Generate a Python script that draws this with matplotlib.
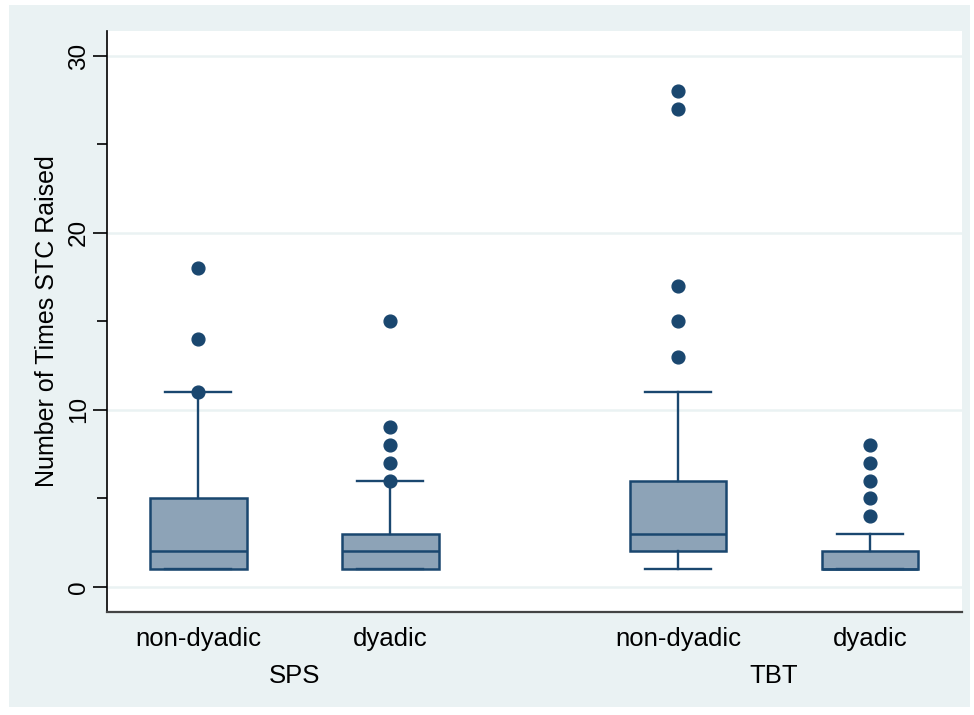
import matplotlib
matplotlib.use("Agg")
import matplotlib.pyplot as plt
from matplotlib.patches import Rectangle
from matplotlib.transforms import blended_transform_factory

plt.rcParams['font.family'] = ['Liberation Sans', 'DejaVu Sans']

# box summaries per group: quartiles, whiskers and outlying points
categories = ['non-dyadic', 'dyadic', 'non-dyadic', 'dyadic']
groups = ['SPS', 'TBT']
q1 = [1, 1, 2, 1]
median = [2, 2, 3, 1]
q3 = [5, 3, 6, 2]
whisker_lo = [1, 1, 1, 1]
whisker_hi = [11, 6, 11, 3]
outliers = [
    [11, 14, 18],
    [6, 7, 8, 9, 15],
    [13, 15, 17, 27, 28],
    [4, 5, 6, 7, 8],
]
positions = [1, 2, 3.5, 4.5]

navy = '#1A476F'
boxfill = '#8DA3B7'
bg = '#EAF2F3'

fig = plt.figure(figsize=(9.74, 7.15), dpi=100)
fig.patch.set_facecolor('white')
# shaded graph region inside a thin white border
fig.patches.append(Rectangle((9 / 974, 1 - 707 / 715), (970 - 9) / 974, (707 - 5) / 715,
                             transform=fig.transFigure, facecolor=bg, edgecolor='none', zorder=-10))

ax = fig.add_axes([107 / 974, 1 - 612 / 715, (962 - 107) / 974, (612 - 31) / 715])
ax.set_zorder(1)
ax.set_facecolor('white')

stats = []
for i in range(len(categories)):
    stats.append(dict(med=median[i], q1=q1[i], q3=q3[i],
                      whislo=whisker_lo[i], whishi=whisker_hi[i], fliers=outliers[i]))

ax.bxp(stats, positions=positions, widths=0.504, patch_artist=True,
       boxprops=dict(facecolor=boxfill, edgecolor=navy, linewidth=1.8),
       medianprops=dict(color=navy, linewidth=1.8),
       whiskerprops=dict(color=navy, linewidth=1.7),
       capprops=dict(color=navy, linewidth=1.7),
       capwidths=0.343,
       flierprops=dict(marker='o', markerfacecolor=navy, markeredgecolor=navy,
                       markersize=9.2, linestyle='none'),
       zorder=3)

ax.set_xlim(0.524, 4.98)
ax.set_ylim(-1.43, 31.41)

# y axis: labelled ticks every 10, short ticks in between
ax.set_yticks([0, 10, 20, 30])
ax.set_yticks([5, 15, 25], minor=True)
ax.set_yticklabels(['0', '10', '20', '30'], rotation=90, va='center', fontsize=17.5)
ax.tick_params(axis='y', which='major', length=10, width=1.2, pad=2.5)
ax.tick_params(axis='y', which='minor', length=7, width=1.2)
ax.grid(axis='y', color=bg, linewidth=1.8, zorder=0)
ax.set_axisbelow(True)
ax.set_ylabel('Number of Times STC Raised', fontsize=18)
ax.yaxis.set_label_coords(-0.056, 0.5)

# x axis: category labels, then group labels below
ax.set_xticks(positions)
ax.set_xticklabels(categories, fontsize=18.5)
ax.tick_params(axis='x', length=0, pad=11)
trans = blended_transform_factory(ax.transData, fig.transFigure)
for g, (a, b) in zip(groups, [(positions[0], positions[1]), (positions[2], positions[3])]):
    ax.text((a + b) / 2, 1 - 676 / 715, g, transform=trans, ha='center', va='center',
            fontsize=18.5)

for side in ['top', 'right']:
    ax.spines[side].set_visible(False)
ax.spines['left'].set_color('black')
ax.spines['left'].set_linewidth(1.2)
ax.spines['bottom'].set_color('#444444')
ax.spines['bottom'].set_linewidth(1.6)

fig.savefig('out.png', dpi=100)
